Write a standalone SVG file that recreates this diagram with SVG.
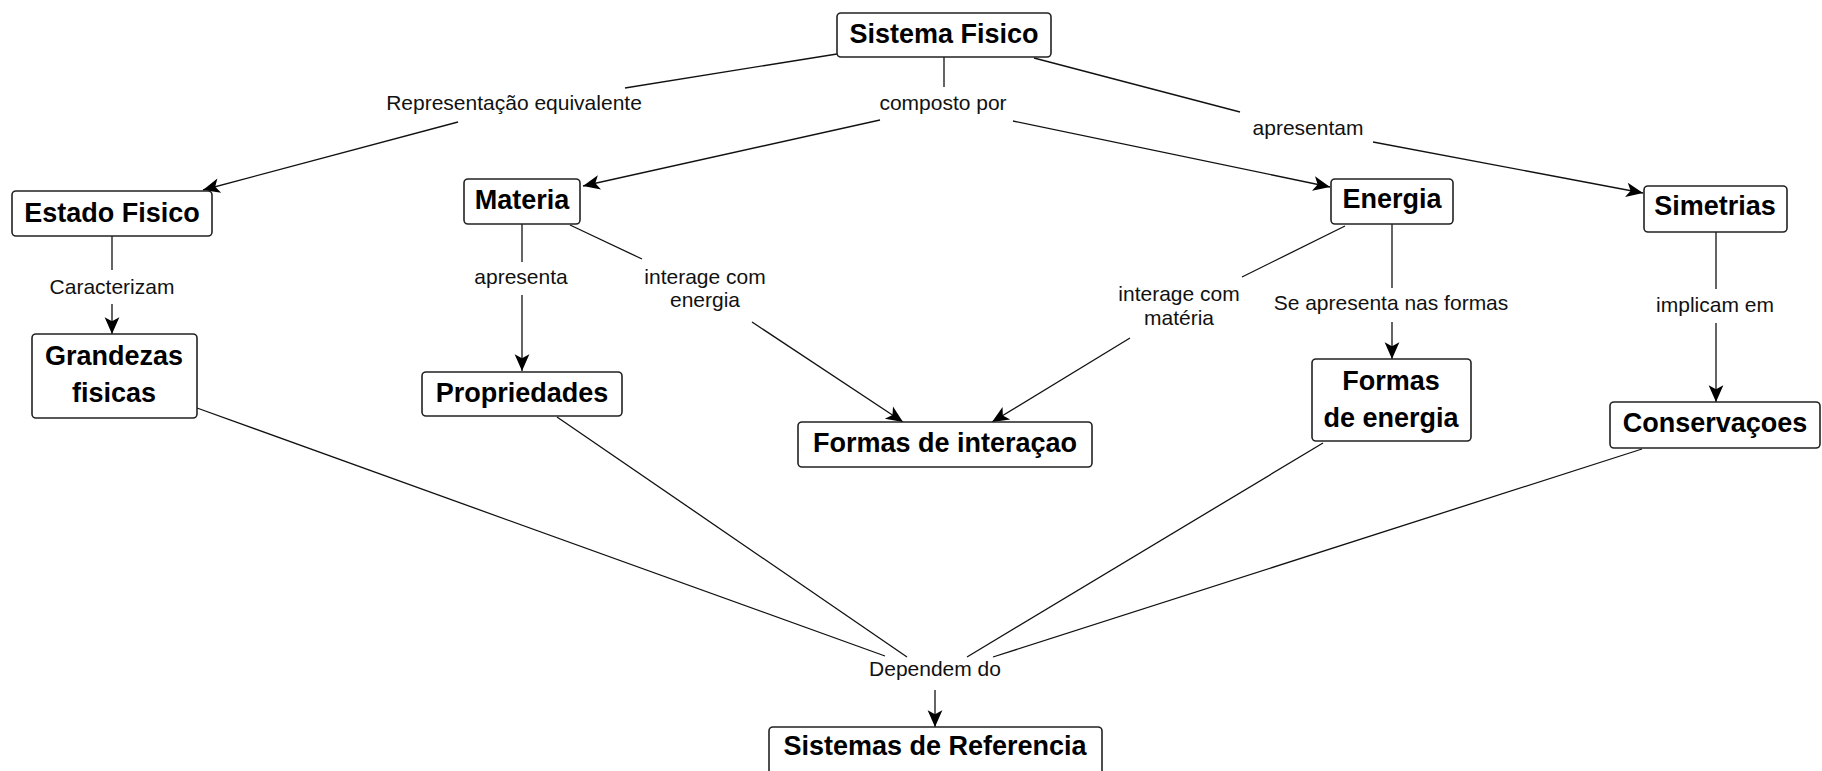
<svg xmlns="http://www.w3.org/2000/svg" width="1822" height="771" viewBox="0 0 1822 771">
<style>
.box{fill:#fff;stroke:#222;stroke-width:1.6}
.nt{font-family:"Liberation Sans",Arial,sans-serif;font-weight:bold;font-size:27px;fill:#000;text-anchor:middle}
.lt{font-family:"Liberation Sans",Arial,sans-serif;font-size:21px;fill:#111;text-anchor:middle}
.ln{stroke:#111;stroke-width:1.3;fill:none}
</style>
<defs>
<marker id="ah" markerUnits="userSpaceOnUse" markerWidth="20" markerHeight="20" viewBox="-17 -8 19 16" refX="0" refY="0" orient="auto">
<path d="M0,0 L-16,-7 L-12,0 L-16,7 z" fill="#000"/>
</marker>
</defs>
<rect width="1822" height="771" fill="#fff"/>
<g id="connectors">
<polyline class="ln" points="837,54 625,88"/>
<line class="ln" x1="458" y1="122" x2="203" y2="190" marker-end="url(#ah)"/>
<line class="ln" x1="944" y1="57" x2="944" y2="87"/>
<line class="ln" x1="880" y1="120" x2="583" y2="186" marker-end="url(#ah)"/>
<line class="ln" x1="1013" y1="121" x2="1330" y2="187" marker-end="url(#ah)"/>
<line class="ln" x1="1034" y1="58" x2="1240" y2="112"/>
<line class="ln" x1="1373" y1="142" x2="1643" y2="193" marker-end="url(#ah)"/>
<line class="ln" x1="112" y1="236" x2="112" y2="270"/>
<line class="ln" x1="112" y1="304" x2="112" y2="334" marker-end="url(#ah)"/>
<line class="ln" x1="522" y1="224" x2="522" y2="262"/>
<line class="ln" x1="522" y1="295" x2="522" y2="371" marker-end="url(#ah)"/>
<line class="ln" x1="570" y1="225" x2="642" y2="259"/>
<line class="ln" x1="752" y1="322" x2="903" y2="422" marker-end="url(#ah)"/>
<line class="ln" x1="1345" y1="226" x2="1242" y2="277"/>
<line class="ln" x1="1130" y1="338" x2="992" y2="422" marker-end="url(#ah)"/>
<line class="ln" x1="1392" y1="224" x2="1392" y2="288"/>
<line class="ln" x1="1392" y1="322" x2="1392" y2="359" marker-end="url(#ah)"/>
<line class="ln" x1="1716" y1="232" x2="1716" y2="289"/>
<line class="ln" x1="1716" y1="323" x2="1716" y2="402" marker-end="url(#ah)"/>
<line class="ln" x1="197" y1="408" x2="885" y2="656"/>
<line class="ln" x1="557" y1="417" x2="907" y2="657"/>
<line class="ln" x1="1323" y1="443" x2="967" y2="657"/>
<line class="ln" x1="1642" y1="449" x2="993" y2="657"/>
<line class="ln" x1="935" y1="690" x2="935" y2="727" marker-end="url(#ah)"/>
<text class="lt" x="514" y="110">Representação equivalente</text>
<text class="lt" x="943" y="110">composto por</text>
<text class="lt" x="1308" y="135">apresentam</text>
<text class="lt" x="112" y="294">Caracterizam</text>
<text class="lt" x="521" y="284">apresenta</text>
<text class="lt" x="705" y="284">interage com</text>
<text class="lt" x="705" y="307">energia</text>
<text class="lt" x="1179" y="301">interage com</text>
<text class="lt" x="1179" y="325">matéria</text>
<text class="lt" x="1391" y="310">Se apresenta nas formas</text>
<text class="lt" x="1715" y="312">implicam em</text>
<text class="lt" x="935" y="676">Dependem do</text>
</g>
<g id="sistema-fisico"><rect class="box" x="837" y="13" width="214" height="44" rx="4"/><text class="nt" x="944" y="43">Sistema Fisico</text></g>
<g id="estado-fisico"><rect class="box" x="12" y="191" width="200" height="45" rx="4"/><text class="nt" x="112" y="222">Estado Fisico</text></g>
<g id="grandezas-fisicas"><rect class="box" x="32" y="334" width="165" height="84" rx="4"/><text class="nt" x="114" y="365">Grandezas</text><text class="nt" x="114" y="402">fisicas</text></g>
<g id="materia"><rect class="box" x="464" y="179" width="116" height="45" rx="4"/><text class="nt" x="522" y="209">Materia</text></g>
<g id="propriedades"><rect class="box" x="422" y="372" width="200" height="44" rx="4"/><text class="nt" x="522" y="402">Propriedades</text></g>
<g id="formas-de-interacao"><rect class="box" x="798" y="422" width="294" height="45" rx="4"/><text class="nt" x="945" y="452">Formas de interaçao</text></g>
<g id="energia"><rect class="box" x="1331" y="179" width="122" height="45" rx="4"/><text class="nt" x="1392" y="208">Energia</text></g>
<g id="formas-de-energia"><rect class="box" x="1312" y="359" width="159" height="82" rx="4"/><text class="nt" x="1391" y="390">Formas</text><text class="nt" x="1391" y="427">de energia</text></g>
<g id="simetrias"><rect class="box" x="1644" y="186" width="143" height="46" rx="4"/><text class="nt" x="1715" y="215">Simetrias</text></g>
<g id="conservacoes"><rect class="box" x="1610" y="402" width="210" height="46" rx="4"/><text class="nt" x="1715" y="432">Conservaçoes</text></g>
<g id="sistemas-de-referencia"><rect class="box" x="769" y="727" width="333" height="50" rx="4"/><text class="nt" x="935" y="755">Sistemas de Referencia</text></g>
</svg>
